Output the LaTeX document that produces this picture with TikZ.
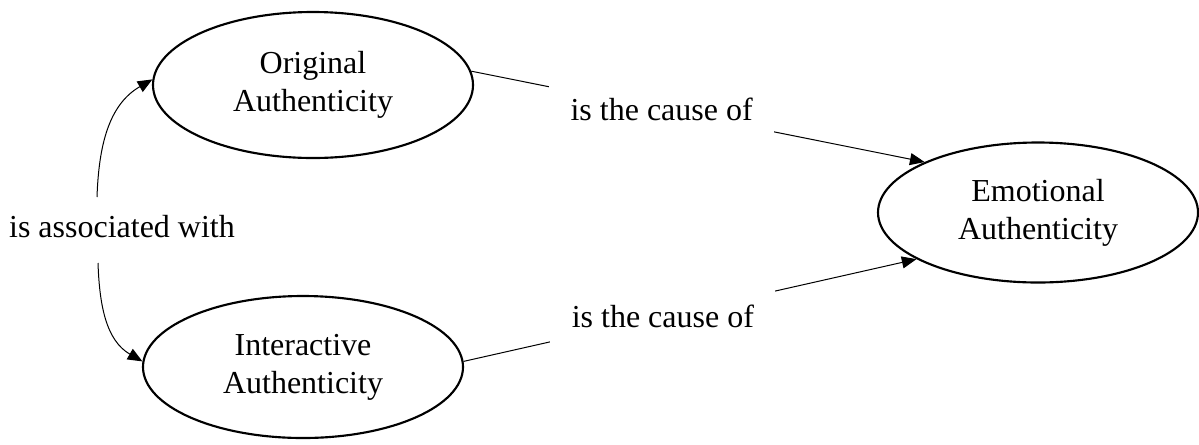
\documentclass[tikz,border=0pt]{standalone}
\usepackage{fontspec}
\setmainfont{Liberation Serif}
\usetikzlibrary{shapes.geometric,arrows.meta}

\begin{document}
\begin{tikzpicture}[x=0.75pt,y=-0.75pt,
  entity/.style={ellipse, draw, line width=1.6pt, inner sep=0pt,
    minimum width=240pt, align=center,
    font=\fontsize{24}{28.5}\selectfont},
  rel/.style={fill=white, inner xsep=16pt, inner ysep=0pt,
    minimum height=44pt, font=\fontsize{24}{28.5}\selectfont},
  link/.style={line width=0.75pt,
    -{Triangle[length=11pt,width=9pt]}}]
  \useasboundingbox (0,0) rectangle (1199,444);

  % the three kinds of authenticity
  \node[entity, minimum height=109.5pt] (orig) at (313,85) {Original\\Authenticity};
  \node[entity, minimum height=106.5pt] (inter) at (303,367) {Interactive\\Authenticity};
  \node[entity, minimum height=105pt] (emo) at (1038,212.5) {Emotional\\Authenticity};

  % causal links into emotional authenticity
  \draw[link] (orig.5) -- node[rel, pos=0.42] (cause1) {is the cause of} (emo.156);
  \draw[link] (inter.2) -- node[rel, pos=0.44] (cause2) {is the cause of} (emo.201);

  % association between original and interactive authenticity
  \node[anchor=base, font=\fontsize{24}{28.5}\selectfont] (assoc) at (122,237) {is associated with};
  \coordinate (assocTop) at (97,197);
  \coordinate (assocBot) at (98,263);
  \draw[link] (assocTop) to[out=88, in=210] (orig.178);
  \draw[link] (assocBot) to[out=-88, in=150] (inter.178);
\end{tikzpicture}
\end{document}
